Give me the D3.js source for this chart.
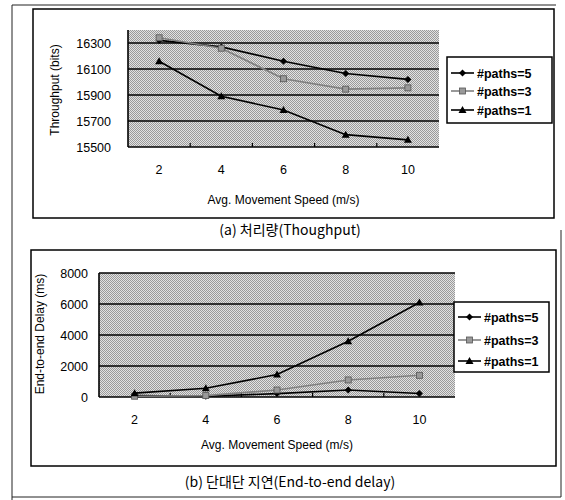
<!DOCTYPE html>
<html>
<head>
<meta charset="utf-8">
<script src="https://cdn.jsdelivr.net/npm/d3@7"></script>
<style>
  html, body { margin: 0; padding: 0; background: #fff; }
  svg text { font-family: "Liberation Sans", Arial, sans-serif; fill: #000; }
  .kr { font-family: "Noto Sans CJK KR", "Liberation Sans", sans-serif; }
</style>
</head>
<body>
<div id="chart"></div>
<script>
// ---- data ----
const speeds = [2, 4, 6, 8, 10];
const seriesNames = ["#paths=5", "#paths=3", "#paths=1"];

const throughput5 = [16320, 16270, 16160, 16065, 16020];
const throughput3 = [16340, 16260, 16025, 15945, 15955];
const throughput1 = [16160, 15890, 15785, 15595, 15555];
const throughputTicks = [15500, 15700, 15900, 16100, 16300];

const delay5 = [100, 50, 220, 450, 230];
const delay3 = [50, 90, 450, 1100, 1400];
const delay1 = [250, 560, 1450, 3600, 6100];
const delayTicks = [0, 2000, 4000, 6000, 8000];

const W = 565, H = 500;

const svg = d3.select("#chart").append("svg")
    .attr("width", W).attr("height", H);

// dithered grey plot background, like the scanned Excel chart
const defs = svg.append("defs");
const pat = defs.append("pattern")
    .attr("id", "dither").attr("width", 2).attr("height", 2)
    .attr("patternUnits", "userSpaceOnUse");
pat.append("rect").attr("width", 2).attr("height", 2).attr("fill", "#e2e2e2");
pat.append("rect").attr("width", 1).attr("height", 1).attr("fill", "#9a9a9a");
pat.append("rect").attr("x", 1).attr("y", 1).attr("width", 1).attr("height", 1).attr("fill", "#9a9a9a");

// outer page frame
svg.append("path")
    .attr("d", "M12,500 L12,5 L556,5 M561,230 L561,497 L12,497")
    .attr("fill", "none").attr("stroke", "#222").attr("stroke-width", 1);

const styles = [
    { color: "#000", marker: "diamond", dash: null },
    { color: "#808080", marker: "square", dash: null },
    { color: "#000", marker: "triangle", dash: null }
];

function marker(g, kind, x, y, color){
    if (kind === "diamond"){
        g.append("path").attr("d", `M${x},${y-3.5} L${x+3.5},${y} L${x},${y+3.5} L${x-3.5},${y} Z`)
            .attr("fill", color);
    } else if (kind === "square"){
        g.append("rect").attr("x", x-3).attr("y", y-3).attr("width", 6).attr("height", 6)
            .attr("fill", "#999").attr("stroke", "#555").attr("stroke-width", 0.8);
    } else {
        g.append("path").attr("d", `M${x},${y-4} L${x+4},${y+3} L${x-4},${y+3} Z`)
            .attr("fill", color);
    }
}

function panel(opt){
    const { box, plot, domain, ticks, series, yTitle, yTitleY, xTickY, xTitleY, labelRight, legend, caption } = opt;

    const g = svg.append("g");

    // chart frame
    g.append("rect")
        .attr("x", box[0]).attr("y", box[1])
        .attr("width", box[2]-box[0]).attr("height", box[3]-box[1])
        .attr("fill", "#fff").attr("stroke", "#000").attr("stroke-width", 1.5);

    const x = d3.scaleBand().domain(speeds).range([plot[0], plot[2]]).padding(0);
    const y = d3.scaleLinear().domain(domain).range([plot[3], plot[1]]);

    g.append("rect")
        .attr("x", plot[0]).attr("y", plot[1])
        .attr("width", plot[2]-plot[0]).attr("height", plot[3]-plot[1])
        .attr("fill", "url(#dither)");

    // gridlines
    g.selectAll(".grid").data(ticks.filter(t => t > domain[0]))
        .enter().append("line")
        .attr("x1", plot[0]).attr("x2", plot[2])
        .attr("y1", d => y(d)).attr("y2", d => y(d))
        .attr("stroke", "#000").attr("stroke-width", 1.6);

    // axes lines
    g.append("line").attr("x1", plot[0]).attr("x2", plot[0]).attr("y1", plot[1]).attr("y2", plot[3])
        .attr("stroke", "#000").attr("stroke-width", 1.6);
    g.append("line").attr("x1", plot[0]).attr("x2", plot[2]).attr("y1", plot[3]).attr("y2", plot[3])
        .attr("stroke", "#000").attr("stroke-width", 1.6);

    // category boundary ticks
    g.selectAll(".xtick").data(speeds.slice(1))
        .enter().append("line")
        .attr("x1", d => x(d)).attr("x2", d => x(d))
        .attr("y1", plot[3]).attr("y2", plot[3]-4)
        .attr("stroke", "#000").attr("stroke-width", 1.2);

    // tick labels
    g.selectAll(".ylab").data(ticks)
        .enter().append("text")
        .attr("x", labelRight).attr("y", d => y(d) + 4.5)
        .attr("text-anchor", "end").attr("font-size", 12.5)
        .text(d => d);

    g.selectAll(".xlab").data(speeds)
        .enter().append("text")
        .attr("x", d => x(d) + x.bandwidth()/2).attr("y", xTickY)
        .attr("text-anchor", "middle").attr("font-size", 12.5)
        .text(d => d);

    g.append("text")
        .attr("x", (plot[0]+plot[2])/2).attr("y", xTitleY)
        .attr("text-anchor", "middle").attr("font-size", 12)
        .text("Avg. Movement Speed (m/s)");

    g.append("text")
        .attr("transform", `translate(${opt.yTitleX},${yTitleY}) rotate(-90)`)
        .attr("text-anchor", "middle").attr("font-size", 12)
        .text(yTitle);

    // series lines + markers
    const line = d3.line()
        .x((d, i) => x(speeds[i]) + x.bandwidth()/2)
        .y(d => y(d));

    series.forEach((vals, k) => {
        const st = styles[k];
        g.append("path").datum(vals)
            .attr("d", line)
            .attr("fill", "none").attr("stroke", st.color).attr("stroke-width", 1.6);
        vals.forEach((v, i) => marker(g, st.marker, x(speeds[i]) + x.bandwidth()/2, y(v), st.color));
    });

    // legend
    const [lx0, ly0, lx1, ly1] = legend.box;
    g.append("rect")
        .attr("x", lx0).attr("y", ly0).attr("width", lx1-lx0).attr("height", ly1-ly0)
        .attr("fill", "#fff").attr("stroke", "#000").attr("stroke-width", 1.5);
    seriesNames.forEach((name, k) => {
        const st = styles[k];
        const ly = legend.rows[k];
        g.append("line").attr("x1", lx0+4).attr("x2", lx0+27).attr("y1", ly).attr("y2", ly)
            .attr("stroke", st.color).attr("stroke-width", 1.6);
        marker(g, st.marker, lx0+15.5, ly, st.color);
        g.append("text").attr("x", lx0+30).attr("y", ly+4.5)
            .attr("font-size", 12.5).attr("font-weight", "bold")
            .text(name);
    });

    // caption
    g.append("text")
        .attr("class", "kr")
        .attr("x", 290).attr("y", caption.y)
        .attr("text-anchor", "middle").attr("font-size", 14)
        .text(caption.text);
}

panel({
    box: [33, 9, 554, 218],
    plot: [128, 30, 439, 147],
    domain: [15500, 16400],
    ticks: throughputTicks,
    series: [throughput5, throughput3, throughput1],
    yTitle: "Throughput (bits)",
    yTitleX: 59, yTitleY: 90,
    labelRight: 111,
    xTickY: 174, xTitleY: 204,
    legend: { box: [447, 57, 552, 123], rows: [73, 91, 110] },
    caption: { text: "(a) 처리량(Thoughput)", y: 235 }
});

panel({
    box: [31, 250, 556, 466],
    plot: [99, 273, 455, 397],
    domain: [0, 8000],
    ticks: delayTicks,
    series: [delay5, delay3, delay1],
    yTitle: "End-to-end Delay (ms)",
    yTitleX: 44, yTitleY: 334,
    labelRight: 88,
    xTickY: 424, xTitleY: 449,
    legend: { box: [454, 302, 549, 372], rows: [317, 340, 361] },
    caption: { text: "(b) 단대단 지연(End-to-end delay)", y: 487 }
});
</script>
</body>
</html>
